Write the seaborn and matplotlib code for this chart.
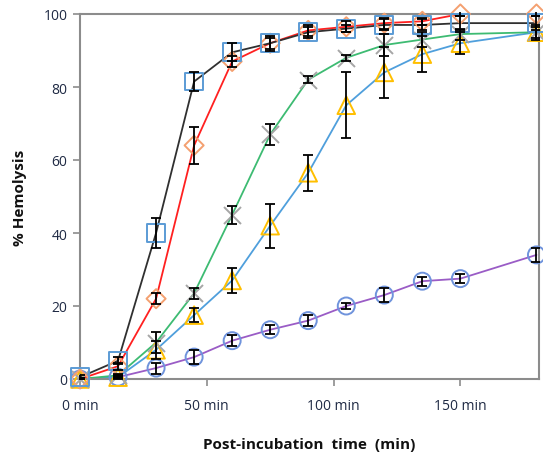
import numpy as np
import pandas as pd
import matplotlib
matplotlib.use("Agg")
import matplotlib.pyplot as plt
import seaborn as sns

time = [0, 15, 30, 45, 60, 75, 90, 105, 120, 135, 150, 180]

sq_vals = [0.5, 5, 40, 81.5, 89.5, 92, 95, 96, 97, 97, 97.5, 97.5]
sq_err = [0.5, 1, 4, 2.5, 2.5, 2, 1.5, 1, 1.5, 1.5, 2, 2]

dia_vals = [0, 3.5, 22, 64, 87, 92, 95.5, 96.5, 97.5, 98, 100, 100]
dia_err = [0.3, 1, 1.5, 5, 1.5, 1.5, 1.5, 1.5, 1.5, 1, 0.5, 0.5]

x_vals = [0, 1, 10, 23.5, 45, 67, 82, 88, 91.5, 93, 94.5, 95]
x_err = [0.3, 0.5, 3, 1.5, 2.5, 3, 1, 0.8, 3, 2, 1.5, 1.5]

tri_vals = [0, 0.5, 8, 17.5, 27, 42, 56.5, 75, 84, 89, 92, 95]
tri_err = [0.3, 0.5, 2.5, 2, 3.5, 6, 5, 9, 7, 5, 3, 2]

cir_vals = [0, 0.5, 3, 6, 10.5, 13.5, 16, 20, 23, 26.8, 27.5, 34]
cir_err = [0.3, 0.3, 1.5, 2, 1.5, 1.2, 1.5, 0.8, 2, 1.2, 1.2, 2]

x_ticks = [0, 50, 100, 150]
x_tick_labels = ["0 min", "50 min", "100 min", "150 min"]
y_ticks = [0, 20, 40, 60, 80, 100]

series = [
    # values, errors, line color, marker, marker color, size
    (cir_vals, cir_err, "#9a5cc6", "o", "#6f93dc", 150),
    (tri_vals, tri_err, "#4f9fdc", "^", "#ffbf00", 160),
    (x_vals, x_err, "#3dbb72", "x", "#a6a6a6", 150),
    (dia_vals, dia_err, "#ff2020", "D", "#f4a070", 95),
    (sq_vals, sq_err, "#303030", "s", "#5b9bd5", 165),
]

sns.set_style("white")
plt.rcParams["font.family"] = ["Open Sans", "DejaVu Sans"]

fig = plt.figure(figsize=(5.43, 4.60), dpi=100)
ax = fig.add_axes([80 / 543, 1 - 380 / 460, (539 - 80) / 543, (380 - 15) / 460])

for vals, err, lc, mk, mc, sz in series:
    sns.lineplot(x=time, y=vals, color=lc, lw=1.3, ax=ax, zorder=2)

for vals, err, lc, mk, mc, sz in series:
    if mk == "x":
        sns.scatterplot(x=time, y=vals, marker="x", s=sz, color=mc,
                        linewidth=1.4, ax=ax, zorder=3)
    else:
        sns.scatterplot(x=time, y=vals, marker=mk, s=sz, facecolors="none",
                        edgecolor=mc, linewidth=1.4, ax=ax, zorder=3)

for vals, err, lc, mk, mc, sz in series:
    ax.errorbar(time, vals, yerr=err, fmt="none", ecolor="black",
                elinewidth=1.3, capsize=3.5, capthick=1.3, zorder=4)

ax.set_xlim(0, 181)
ax.set_ylim(0, 100)
ax.set_xticks(x_ticks)
ax.set_xticklabels(x_tick_labels)
ax.set_yticks(y_ticks)

tick_color = "#1f2a44"
ax.tick_params(axis="both", direction="out", length=5, width=1.2,
               color="#8c8c8c", labelsize=10, labelcolor=tick_color, pad=4,
               bottom=True, left=True)
ax.tick_params(axis="x", pad=9)
for sp in ax.spines.values():
    sp.set_color("#8c8c8c")
    sp.set_linewidth(1.5)
    sp.set_visible(True)

ax.set_xlabel("Post-incubation  time  (min)", fontsize=11, fontweight="bold",
              color="#111111", labelpad=17)
ax.set_ylabel("% Hemolysis", fontsize=11, fontweight="bold",
              color="#111111", labelpad=12)
ax.grid(False)
for c in ax.collections:
    c.set_clip_on(False)

fig.savefig("out.png", dpi=100)
